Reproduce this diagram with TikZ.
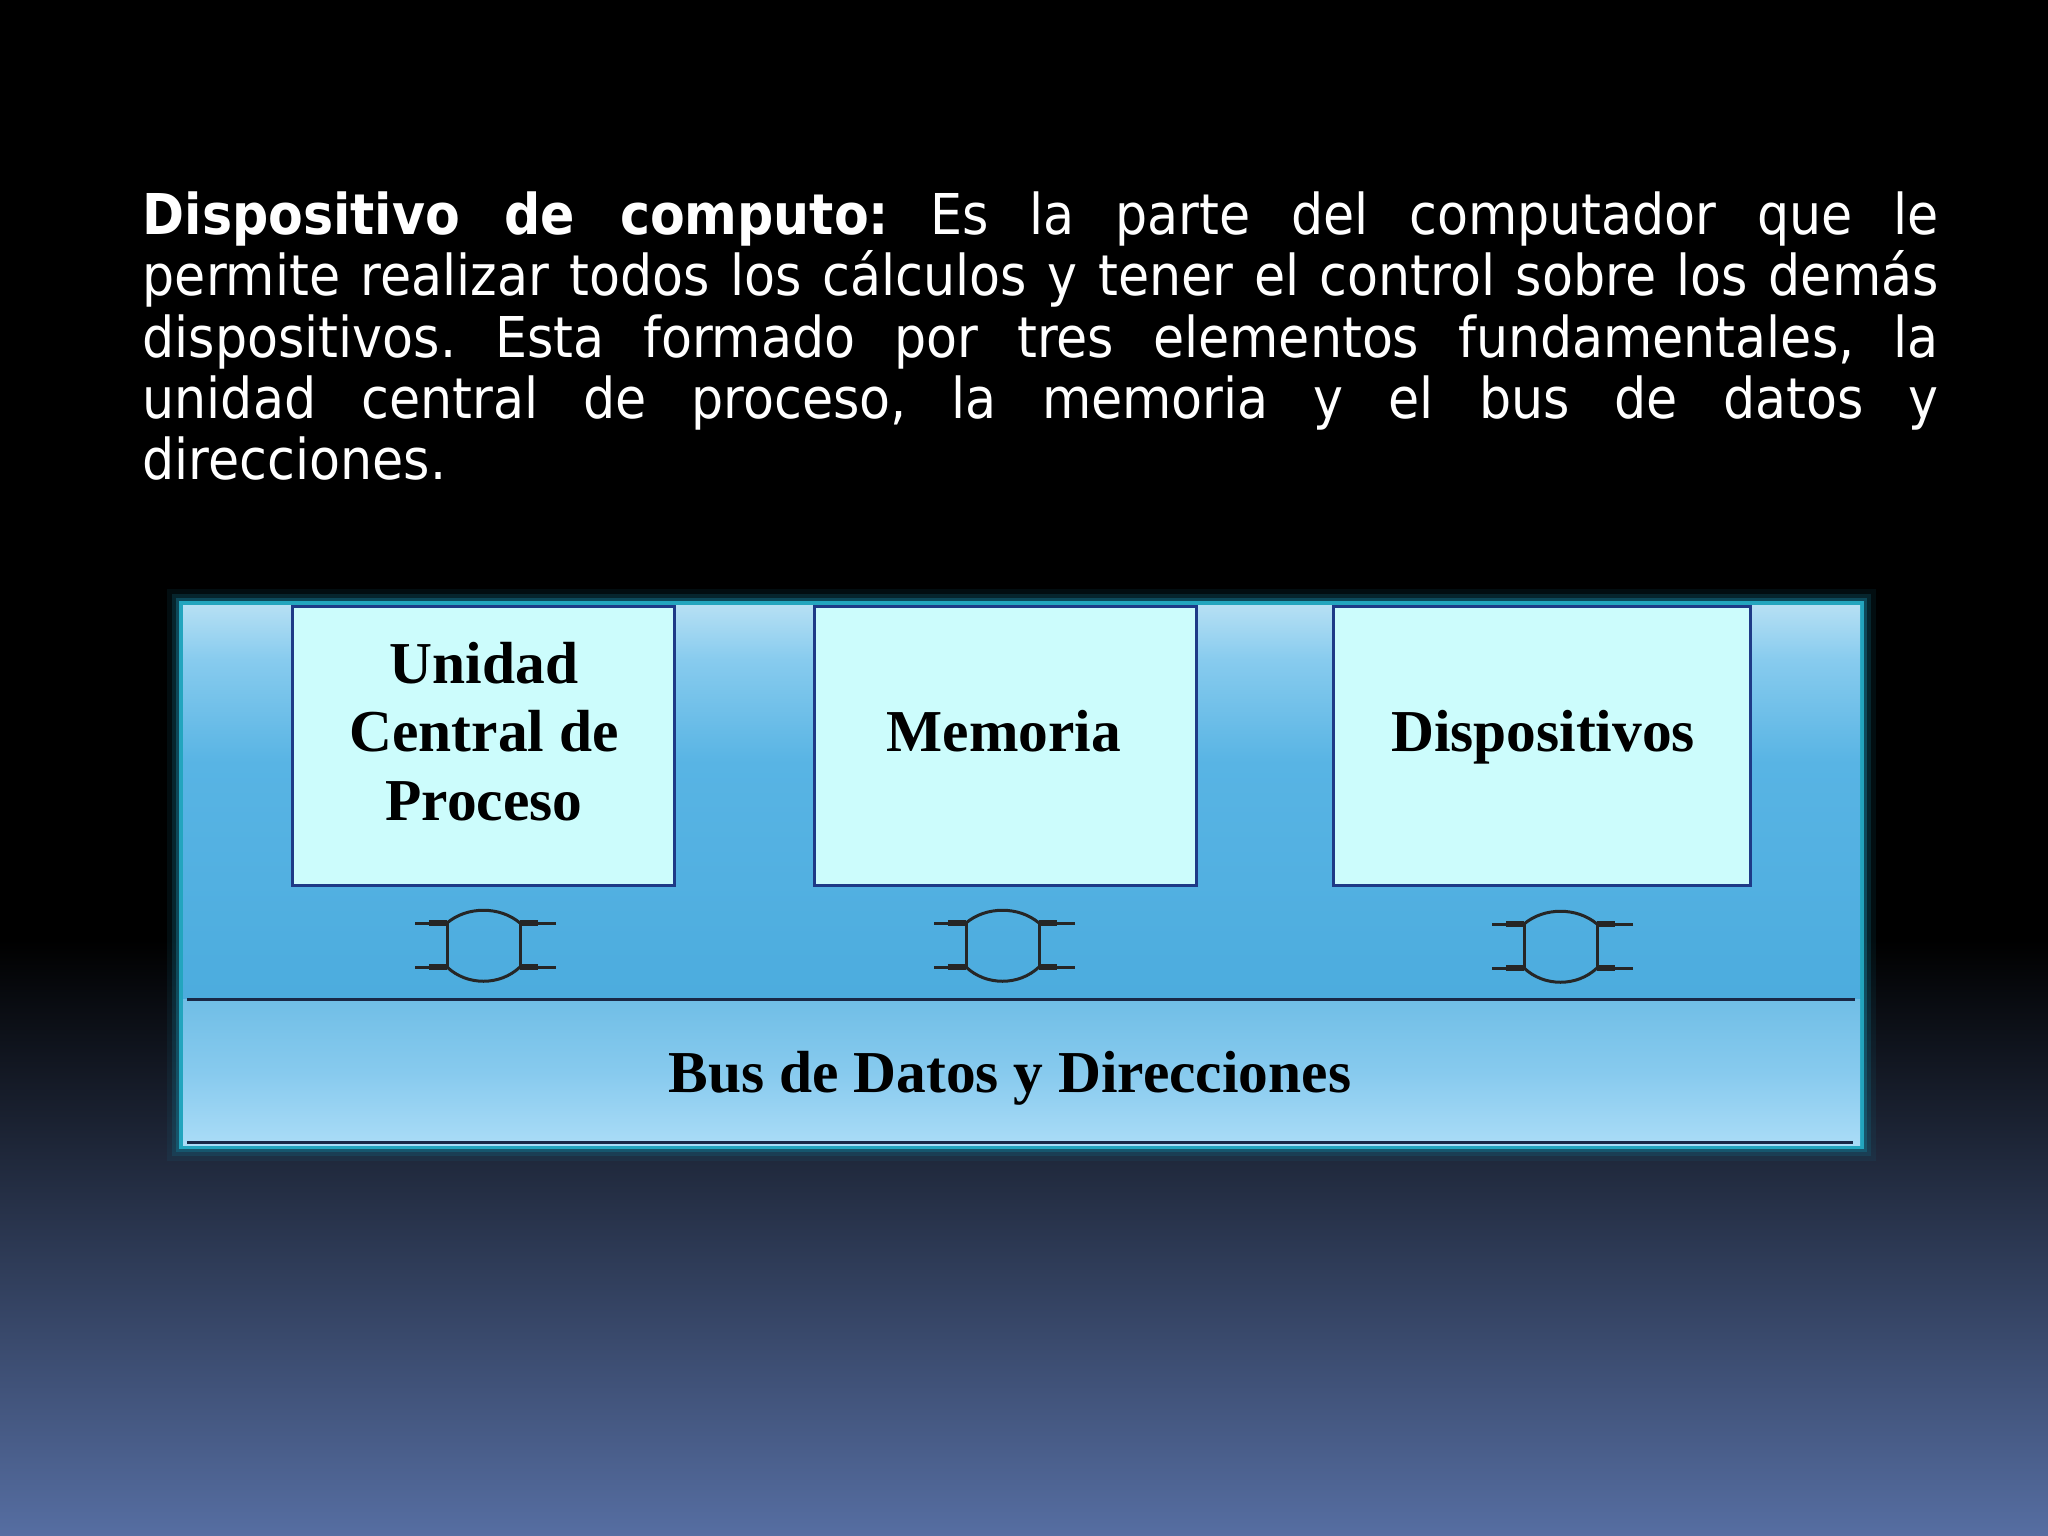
\documentclass[tikz,border=0pt]{standalone}
\usepackage{fontspec}
\newfontfamily\bodyfont{DejaVu Sans Condensed}
\newfontfamily\boxfont{Liberation Serif}
\definecolor{upA}{RGB}{76,172,222}
\definecolor{upB}{RGB}{88,180,228}
\definecolor{upC}{RGB}{135,203,238}
\definecolor{upD}{RGB}{182,224,244}
\definecolor{busTop}{RGB}{112,190,230}
\definecolor{busMid}{RGB}{135,202,238}
\definecolor{busBot}{RGB}{170,220,247}
\definecolor{boxfill}{RGB}{204,252,252}
\definecolor{boxline}{RGB}{30,58,135}
\definecolor{navyline}{RGB}{25,40,70}
\definecolor{glowA}{RGB}{20,110,135}
\definecolor{glowB}{RGB}{35,165,190}
\definecolor{bgbot}{RGB}{86,110,162}
\pgfdeclareverticalshading{upperpanel}{100bp}{color(0bp)=(upA); color(25bp)=(upA); color(55bp)=(upB); color(68bp)=(upC); color(75bp)=(upD); color(100bp)=(upD)}
\pgfdeclareverticalshading{buspanel}{100bp}{color(0bp)=(busBot); color(25bp)=(busBot); color(50bp)=(busMid); color(75bp)=(busTop); color(100bp)=(busTop)}
\tikzset{
  bodytext/.style={inner sep=0pt, text=white, font=\bodyfont\fontsize{16}{19}\selectfont},
  unitbox/.style={draw=boxline, line width=0.03cm, fill=boxfill, inner sep=0pt},
  boxlabel/.style={inner sep=0pt, text=black, font=\boxfont\bfseries\fontsize{16.9}{19.5}\selectfont},
  busline/.style={draw=navyline, line width=0.03cm},
  ifline/.style={draw=black!85, line width=0.03cm},
  ifthick/.style={draw=black!85, line width=0.055cm},
  busif/.pic={
    \draw[ifline] (-70,-22) -- (-38,-22) -- (-38,22) -- (-70,22);
    \draw[ifline] (71,-22) -- (35,-22) -- (35,22) -- (71,22);
    \draw[ifthick] (-56,-22) -- (-38,-22);
    \draw[ifthick] (-56,22) -- (-38,22);
    \draw[ifthick] (35,-22) -- (53,-22);
    \draw[ifthick] (35,22) -- (53,22);
    \draw[ifline] (-38,-22) .. controls (-18,-39) and (15,-39) .. (35,-22);
    \draw[ifline] (-38,22) .. controls (-18,41) and (15,41) .. (35,22);
  }
}
\frenchspacing
\begin{document}
\begin{tikzpicture}[x=0.01cm,y=-0.01cm]
\useasboundingbox (0,0) rectangle (2048,1536);
% background
\fill[black] (0,0) rectangle (2048,1536);
\fill[top color=black, bottom color=bgbot] (0,940) rectangle (2048,1536);
% body text
\node[bodytext, anchor=base west] (t1) at (142,234) {\makebox[17.95cm][s]{\textbf{Dispositivo de computo:} Es la parte del computador que le}};
\node[bodytext, anchor=base west] (t2) at (142,295) {\makebox[17.95cm][s]{permite realizar todos los cálculos y tener el control sobre los demás}};
\node[bodytext, anchor=base west] (t3) at (142,357) {\makebox[17.95cm][s]{dispositivos. Esta formado por tres elementos fundamentales, la}};
\node[bodytext, anchor=base west] (t4) at (142,418) {\makebox[17.95cm][s]{unidad central de proceso, la memoria y el bus de datos y}};
\node[bodytext, anchor=base west] (t5) at (142,479) {direcciones.};
% panel glow
\draw[glowA, line width=0.22cm, opacity=0.12] (178,600) rectangle (1865,1150);
\draw[glowA, line width=0.14cm, opacity=0.25] (179,601) rectangle (1864,1149);
\draw[glowA, line width=0.08cm, opacity=0.5] (180,602) rectangle (1863,1148);
\draw[glowB, line width=0.04cm] (181,603) rectangle (1862,1147);
% panel interior
\shade[shading=upperpanel] (183,605) rectangle (1860,999);
\shade[shading=buspanel] (183,999) rectangle (1860,1145);
\draw[busline] (187,999) -- (1855,999);
\draw[busline] (187,1142) -- (1853,1142);
% units
\node[unitbox, minimum width=3.81cm, minimum height=2.78cm] (cpu) at (483.5,746) {};
\node[unitbox, minimum width=3.81cm, minimum height=2.78cm] (mem) at (1005.5,746) {};
\node[unitbox, minimum width=4.16cm, minimum height=2.78cm] (dev) at (1542,746) {};
\node[boxlabel, anchor=base] (cpuA) at (484,683) {Unidad};
\node[boxlabel, anchor=base] (cpuB) at (484,751) {Central de};
\node[boxlabel, anchor=base] (cpuC) at (484,820) {Proceso};
\node[boxlabel, anchor=base] (memt) at (1004,751) {Memoria};
\node[boxlabel, anchor=base] (devt) at (1543,751) {Dispositivos};
\node[boxlabel, anchor=base] (bust) at (1010,1092) {Bus de Datos y Direcciones};
% bus interfaces
\pic (ifa) at (485,945) {busif};
\pic (ifb) at (1004,945) {busif};
\pic (ifc) at (1562,946) {busif};
\end{tikzpicture}
\end{document}
